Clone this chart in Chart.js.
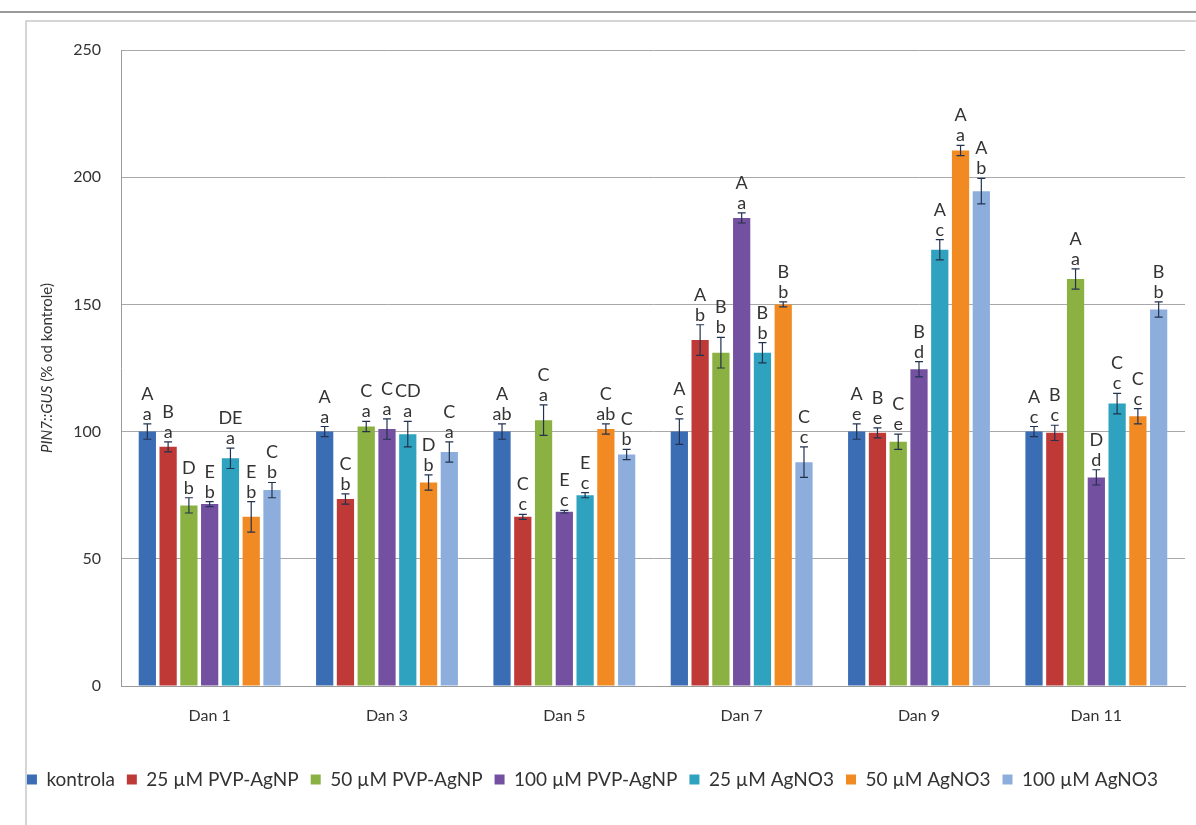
<!DOCTYPE html>
<html lang="sr">
<head>
    <meta charset="UTF-8">
    <title>PIN7::GUS</title>
    <script src="https://cdn.jsdelivr.net/npm/chart.js"></script>
    <style>
        html, body { margin: 0; padding: 0; background: #ffffff; }
        #wrap { position: relative; width: 1196px; height: 825px; }
    </style>
</head>
<body>
<div id="wrap">
    <canvas id="myChart" width="1196" height="825"></canvas>
</div>

<script>
// podaci ocitani sa grafika
const dani = ['Dan 1', 'Dan 3', 'Dan 5', 'Dan 7', 'Dan 9', 'Dan 11'];
const tretmani = ['kontrola', '25 µM PVP-AgNP', '50 µM PVP-AgNP', '100 µM PVP-AgNP', '25 µM AgNO3', '50 µM AgNO3', '100 µM AgNO3'];

const kontrola  = [100, 100, 100, 100, 100, 100];
const pvp25     = [94, 73.5, 66.5, 136, 99.5, 99.5];
const pvp50     = [71, 102, 104.5, 131, 96, 160];
const pvp100    = [71.5, 101, 68.5, 184, 124.5, 82];
const agno25    = [89.5, 99, 75, 131, 171.5, 111];
const agno50    = [66.5, 80, 101, 150, 210.5, 106];
const agno100   = [77, 92, 91, 88, 194.5, 148];

const errKontrola = [3, 2, 3, 5, 3, 2];
const errPvp25    = [2, 2, 1, 6, 2, 3];
const errPvp50    = [3, 2, 6, 6, 3, 4];
const errPvp100   = [1, 4, 0.5, 2, 3, 3];
const errAgno25   = [4, 5, 1, 4, 4, 4];
const errAgno50   = [6, 3, 2, 1, 2, 3];
const errAgno100  = [3, 4, 2, 6, 5, 3];

// slova statisticke znacajnosti (velika / mala)
const velikaKontrola = ['A', 'A', 'A', 'A', 'A', 'A'];
const velikaPvp25    = ['B', 'C', 'C', 'A', 'B', 'B'];
const velikaPvp50    = ['D', 'C', 'C', 'B', 'C', 'A'];
const velikaPvp100   = ['E', 'C', 'E', 'A', 'B', 'D'];
const velikaAgno25   = ['DE', 'CD', 'E', 'B', 'A', 'C'];
const velikaAgno50   = ['E', 'D', 'C', 'B', 'A', 'C'];
const velikaAgno100  = ['C', 'C', 'C', 'C', 'A', 'B'];

const malaKontrola = ['a', 'a', 'ab', 'c', 'e', 'c'];
const malaPvp25    = ['a', 'b', 'c', 'b', 'e', 'c'];
const malaPvp50    = ['b', 'a', 'a', 'b', 'e', 'a'];
const malaPvp100   = ['b', 'a', 'c', 'a', 'd', 'd'];
const malaAgno25   = ['a', 'a', 'c', 'b', 'c', 'c'];
const malaAgno50   = ['b', 'b', 'ab', 'b', 'a', 'c'];
const malaAgno100  = ['b', 'a', 'b', 'c', 'b', 'b'];

const boje = ['#3B6DB4', '#BF3A36', '#8BB142', '#7450A1', '#2EA2BE', '#F18A23', '#8DAEDD'];

const vrednosti = [kontrola, pvp25, pvp50, pvp100, agno25, agno50, agno100];
const greske = [errKontrola, errPvp25, errPvp50, errPvp100, errAgno25, errAgno50, errAgno100];
const velika = [velikaKontrola, velikaPvp25, velikaPvp50, velikaPvp100, velikaAgno25, velikaAgno50, velikaAgno100];
const mala = [malaKontrola, malaPvp25, malaPvp50, malaPvp100, malaAgno25, malaAgno50, malaAgno100];

const FONT = 'Lato, "Open Sans", sans-serif';

// okvir oko grafika
const okvir = {
    id: 'okvir',
    beforeDraw(chart) {
        const ctx = chart.ctx;
        ctx.save();
        ctx.strokeStyle = '#9a9a9a';
        ctx.lineWidth = 2;
        ctx.beginPath();
        ctx.moveTo(0, 12);
        ctx.lineTo(chart.width, 12);
        ctx.stroke();
        ctx.strokeStyle = '#c8c8c8';
        ctx.lineWidth = 1.5;
        ctx.beginPath();
        ctx.moveTo(26, chart.height);
        ctx.lineTo(26, 21);
        ctx.lineTo(chart.width, 21);
        ctx.stroke();
        ctx.restore();
    }
};

// naslov y ose sa kurzivom
const naslovY = {
    id: 'naslovY',
    afterDraw(chart) {
        const ctx = chart.ctx;
        const area = chart.chartArea;
        const cy = (area.top + area.bottom) / 2;
        ctx.save();
        ctx.translate(47, cy);
        ctx.rotate(-Math.PI / 2);
        ctx.fillStyle = '#333';
        ctx.textBaseline = 'middle';
        const it = 'italic 15px ' + FONT;
        const nor = '15px ' + FONT;
        const d1 = 'PIN7::GUS', d2 = ' (% od kontrole)';
        ctx.font = it;
        const w1 = ctx.measureText(d1).width;
        ctx.font = nor;
        const w2 = ctx.measureText(d2).width;
        let x = -(w1 + w2) / 2;
        ctx.font = it;
        ctx.fillText(d1, x, 0);
        ctx.font = nor;
        ctx.fillText(d2, x + w1, 0);
        ctx.restore();
    }
};

// error barovi i slova
const greskeISlova = {
    id: 'greskeISlova',
    afterDatasetsDraw(chart) {
        const ctx = chart.ctx;
        const y = chart.scales.y;
        ctx.save();
        chart.data.datasets.forEach((ds, i) => {
            const meta = chart.getDatasetMeta(i);
            meta.data.forEach((bar, j) => {
                const v = ds.data[j];
                const e = greske[i][j];
                const yTop = y.getPixelForValue(v + e);
                const yBot = y.getPixelForValue(v - e);
                ctx.strokeStyle = '#22324f';
                ctx.lineWidth = 1.2;
                ctx.beginPath();
                ctx.moveTo(bar.x, yTop);
                ctx.lineTo(bar.x, yBot);
                ctx.moveTo(bar.x - 4, yTop);
                ctx.lineTo(bar.x + 4, yTop);
                ctx.moveTo(bar.x - 4, yBot);
                ctx.lineTo(bar.x + 4, yBot);
                ctx.stroke();

                ctx.fillStyle = '#333';
                ctx.textAlign = 'center';
                ctx.textBaseline = 'alphabetic';
                ctx.font = '18px ' + FONT;
                ctx.fillText(mala[i][j], bar.x, yTop - 4);
                ctx.fillText(velika[i][j], bar.x, yTop - 24);
            });
        });
        ctx.restore();
    }
};

const data = {
    labels: dani,
    datasets: tretmani.map((t, i) => ({
        label: t,
        data: vrednosti[i],
        backgroundColor: boje[i],
        borderColor: boje[i],
        borderWidth: 0,
        categoryPercentage: 0.82,
        barPercentage: 0.83
    }))
};

const config = {
    type: 'bar',
    data: data,
    options: {
        responsive: false,
        animation: false,
        layout: {
            padding: { top: 50, right: 11, left: 0, bottom: 26 }
        },
        scales: {
            x: {
                grid: { display: false, drawTicks: false },
                border: { color: '#9a9a9a', width: 1 },
                ticks: { color: '#333', font: { family: FONT, size: 16 }, padding: 20 },
                afterFit(scale) { scale.height = 72; }
            },
            y: {
                min: 0,
                max: 250,
                ticks: { stepSize: 50, color: '#333', font: { family: FONT, size: 16 }, padding: 20 },
                grid: { color: '#a8a8a8', drawTicks: false },
                border: { color: '#9a9a9a', width: 1 },
                afterFit(scale) { scale.width = 121; }
            }
        },
        plugins: {
            legend: {
                position: 'bottom',
                labels: {
                    boxWidth: 10,
                    boxHeight: 10,
                    padding: 12,
                    color: '#333',
                    font: { family: FONT, size: 19 }
                }
            },
            tooltip: { enabled: false }
        }
    },
    plugins: [okvir, naslovY, greskeISlova]
};

const grafik = new Chart(document.getElementById('myChart'), config);
</script>
</body>
</html>
